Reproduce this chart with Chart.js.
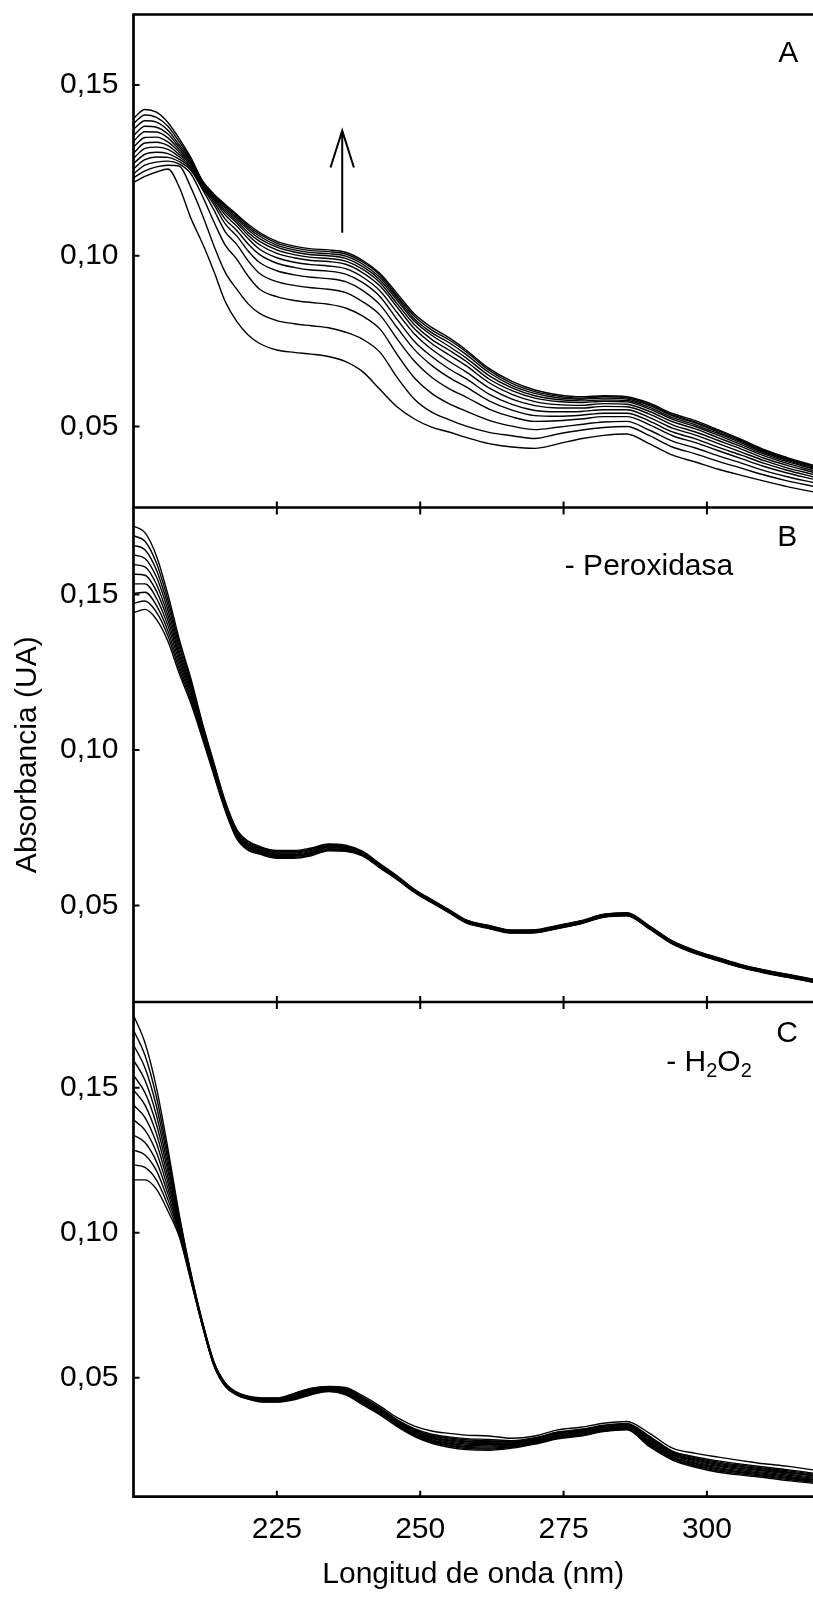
<!DOCTYPE html>
<html>
<head>
<meta charset="utf-8">
<script src="https://cdn.jsdelivr.net/npm/chart.js@4.4.1/dist/chart.umd.min.js"></script>
<style>
html,body{margin:0;padding:0;background:#fff;}
#wrap{position:relative;width:813px;height:1600px;overflow:hidden;}
canvas{position:absolute;left:0;top:0;}
</style>
</head>
<body>
<div id="wrap">
<canvas id="cA" width="813" height="1600"></canvas>
<canvas id="cB" width="813" height="1600"></canvas>
<canvas id="cC" width="813" height="1600"></canvas>
</div>
<script>
// ---------------- DATA ----------------
const wavelengths = [200,202,204,206,208,210,212,214,216,218,220,222,225,228,231,234,237,240,243,246,249,252,255,258,262,266,270,274,278,282,286,290,294,298,302,306,310,314,318.5];
const xTickValues = [225,250,275,300];
const yTickValues = [0.05,0.10,0.15];

// Panel A: successive spectra (lowest = first scan)
const absorbanceA = [
[.1215,.1232,.1245,.1254,.1200,.1110,.1037,.0955,.0866,.0808,.0768,.0743,.0724,.0717,.0712,.0705,.0690,.0660,.0608,.0557,.0522,.0498,.0484,.0468,.0450,.0440,.0436,.0449,.0464,.0474,.0478,.0449,.0416,.0396,.0375,.0357,.0340,.0324,.0309],
[.1228,.1248,.1260,.1265,.1262,.1200,.1120,.1030,.0951,.0902,.0859,.0831,.0810,.0801,.0795,.0789,.0776,.0755,.0717,.0643,.0580,.0542,.0520,.0501,.0483,.0473,.0465,.0478,.0489,.0497,.0500,.0473,.0440,.0420,.0398,.0378,.0358,.0341,.0325],
[.1240,.1265,.1274,.1277,.1268,.1240,.1175,.1100,.1031,.0990,.0940,.0902,.0880,.0869,.0863,.0858,.0847,.0823,.0785,.0710,.0642,.0597,.0567,.0545,.0518,.0501,.0491,.0498,.0506,.0513,.0515,.0489,.0457,.0437,.0414,.0393,.0371,.0353,.0336],
[.1255,.1281,.1289,.1288,.1275,.1250,.1195,.1135,.1070,.1033,.0985,.0948,.0924,.0913,.0906,.0902,.0892,.0865,.0826,.0756,.0691,.0644,.0611,.0586,.0551,.0528,.0515,.0517,.0522,.0529,.0529,.0505,.0473,.0453,.0429,.0406,.0383,.0364,.0346],
[.1270,.1297,.1303,.1299,.1282,.1256,.1200,.1150,.1093,.1058,.1014,.0980,.0956,.0944,.0937,.0933,.0924,.0898,.0856,.0789,.0725,.0679,.0644,.0616,.0575,.0548,.0532,.0530,.0533,.0539,.0539,.0516,.0484,.0464,.0439,.0416,.0392,.0372,.0353],
[.1285,.1314,.1318,.1311,.1289,.1261,.1203,.1158,.1107,.1074,.1034,.1003,.0978,.0966,.0958,.0955,.0946,.0921,.0880,.0813,.0749,.0705,.0669,.0640,.0595,.0565,.0547,.0543,.0544,.0549,.0549,.0526,.0495,.0475,.0450,.0425,.0400,.0379,.0360],
[.1300,.1330,.1332,.1322,.1296,.1266,.1206,.1164,.1119,.1087,.1050,.1019,.0994,.0981,.0974,.0970,.0962,.0937,.0897,.0833,.0771,.0726,.0691,.0660,.0613,.0580,.0561,.0554,.0554,.0559,.0558,.0536,.0505,.0484,.0459,.0434,.0407,.0386,.0366],
[.1318,.1346,.1347,.1333,.1303,.1270,.1209,.1168,.1127,.1096,.1060,.1032,.1007,.0994,.0986,.0983,.0975,.0950,.0911,.0849,.0786,.0743,.0710,.0678,.0628,.0594,.0573,.0564,.0562,.0567,.0565,.0544,.0514,.0493,.0467,.0441,.0414,.0392,.0371],
[.1335,.1363,.1362,.1345,.1310,.1274,.1212,.1172,.1133,.1102,.1068,.1042,.1017,.1003,.0995,.0992,.0984,.0960,.0921,.0859,.0798,.0755,.0724,.0691,.0639,.0605,.0583,.0573,.0570,.0574,.0572,.0551,.0521,.0500,.0474,.0447,.0419,.0397,.0376],
[.1352,.1379,.1376,.1356,.1317,.1278,.1214,.1175,.1139,.1108,.1076,.1050,.1025,.1011,.1003,.1000,.0992,.0968,.0929,.0869,.0808,.0767,.0735,.0701,.0649,.0613,.0590,.0579,.0575,.0578,.0576,.0556,.0526,.0505,.0479,.0452,.0423,.0401,.0379],
[.1370,.1395,.1391,.1367,.1324,.1281,.1216,.1177,.1143,.1113,.1082,.1057,.1031,.1017,.1009,.1006,.0999,.0975,.0936,.0876,.0815,.0775,.0746,.0711,.0658,.0620,.0597,.0584,.0580,.0583,.0580,.0561,.0531,.0510,.0483,.0456,.0426,.0404,.0382],
[.1387,.1412,.1405,.1379,.1333,.1284,.1218,.1179,.1147,.1118,.1087,.1063,.1037,.1023,.1015,.1012,.1005,.0981,.0943,.0882,.0823,.0783,.0754,.0719,.0665,.0626,.0602,.0589,.0583,.0587,.0584,.0564,.0534,.0513,.0487,.0459,.0429,.0406,.0385],
[.1402,.1428,.1420,.1390,.1342,.1287,.1220,.1181,.1150,.1121,.1092,.1068,.1042,.1028,.1020,.1017,.1010,.0986,.0948,.0889,.0829,.0790,.0760,.0724,.0670,.0632,.0607,.0593,.0587,.0590,.0587,.0568,.0538,.0517,.0490,.0462,.0432,.0409,.0387]
];

// Panel B: - Peroxidasa
const absorbanceB = [
[.1441,.1452,.1420,.1350,.1245,.1150,.1038,.0920,.0805,.0715,.0677,.0665,.0652,.0652,.0660,.0676,.0674,.0659,.0620,.0583,.0542,.0509,.0477,.0444,.0426,.0411,.0412,.0426,.0441,.0462,.0467,.0424,.0376,.0345,.0322,.0300,.0283,.0269,.0253],
[.1472,.1479,.1443,.1367,.1257,.1159,.1044,.0924,.0808,.0718,.0680,.0668,.0655,.0655,.0663,.0678,.0676,.0661,.0622,.0584,.0543,.0510,.0478,.0445,.0427,.0412,.0413,.0427,.0442,.0463,.0468,.0425,.0377,.0346,.0323,.0301,.0284,.0270,.0254],
[.1503,.1507,.1465,.1383,.1269,.1168,.1049,.0929,.0812,.0722,.0684,.0671,.0658,.0658,.0666,.0681,.0678,.0662,.0623,.0586,.0544,.0511,.0479,.0446,.0428,.0413,.0414,.0428,.0443,.0464,.0469,.0426,.0378,.0347,.0324,.0302,.0285,.0271,.0255],
[.1534,.1534,.1488,.1400,.1282,.1177,.1055,.0933,.0815,.0725,.0687,.0673,.0660,.0660,.0668,.0683,.0680,.0664,.0625,.0587,.0545,.0512,.0480,.0447,.0429,.0414,.0415,.0429,.0444,.0465,.0470,.0427,.0379,.0348,.0325,.0303,.0286,.0272,.0256],
[.1565,.1562,.1511,.1417,.1294,.1186,.1060,.0938,.0818,.0728,.0690,.0676,.0663,.0663,.0671,.0686,.0682,.0666,.0626,.0588,.0546,.0513,.0481,.0448,.0430,.0415,.0416,.0430,.0445,.0466,.0471,.0428,.0380,.0349,.0326,.0304,.0287,.0273,.0257],
[.1596,.1589,.1533,.1433,.1306,.1194,.1066,.0942,.0822,.0732,.0694,.0679,.0666,.0666,.0674,.0688,.0685,.0667,.0628,.0590,.0548,.0515,.0483,.0450,.0432,.0417,.0418,.0432,.0447,.0468,.0473,.0430,.0382,.0351,.0328,.0306,.0289,.0275,.0259],
[.1627,.1616,.1556,.1450,.1318,.1203,.1071,.0947,.0825,.0735,.0697,.0682,.0669,.0669,.0677,.0691,.0687,.0669,.0629,.0591,.0549,.0516,.0484,.0451,.0433,.0418,.0419,.0433,.0448,.0469,.0474,.0431,.0383,.0352,.0329,.0307,.0290,.0276,.0260],
[.1658,.1644,.1579,.1467,.1331,.1212,.1077,.0951,.0828,.0738,.0700,.0685,.0672,.0672,.0680,.0693,.0689,.0671,.0631,.0592,.0550,.0517,.0485,.0452,.0434,.0419,.0420,.0434,.0449,.0470,.0475,.0432,.0384,.0353,.0330,.0308,.0291,.0277,.0261],
[.1689,.1671,.1601,.1483,.1343,.1221,.1082,.0956,.0832,.0742,.0704,.0687,.0674,.0674,.0682,.0696,.0691,.0672,.0632,.0594,.0551,.0518,.0486,.0453,.0435,.0420,.0421,.0435,.0450,.0471,.0476,.0433,.0385,.0354,.0331,.0309,.0292,.0278,.0262],
[.1720,.1699,.1624,.1500,.1355,.1230,.1088,.0960,.0835,.0745,.0707,.0690,.0677,.0677,.0685,.0698,.0694,.0674,.0634,.0595,.0552,.0519,.0487,.0454,.0436,.0421,.0422,.0436,.0451,.0472,.0477,.0434,.0386,.0355,.0332,.0310,.0293,.0279,.0263]
];

// Panel C: - H2O2
const absorbanceC = [
[.1182,.1182,.1150,.1075,.0985,.0835,.0680,.0543,.0470,.0440,.0426,.0417,.0416,.0424,.0441,.0452,.0441,.0406,.0372,.0331,.0297,.0274,.0260,.0252,.0250,.0257,.0271,.0289,.0299,.0314,.0320,.0262,.0216,.0191,.0174,.0164,.0156,.0145,.0136],
[.1234,.1225,.1182,.1095,.0992,.0837,.0681,.0544,.0471,.0441,.0427,.0418,.0417,.0426,.0443,.0454,.0443,.0409,.0374,.0333,.0300,.0277,.0264,.0256,.0254,.0260,.0273,.0291,.0301,.0316,.0322,.0266,.0219,.0195,.0178,.0168,.0160,.0149,.0140],
[.1285,.1268,.1214,.1114,.0999,.0840,.0682,.0545,.0472,.0442,.0428,.0420,.0419,.0428,.0445,.0455,.0446,.0411,.0377,.0336,.0302,.0280,.0267,.0260,.0257,.0262,.0275,.0294,.0304,.0318,.0324,.0269,.0222,.0198,.0182,.0172,.0163,.0153,.0143],
[.1337,.1311,.1245,.1134,.1005,.0842,.0684,.0547,.0473,.0443,.0429,.0421,.0420,.0430,.0447,.0457,.0448,.0414,.0379,.0338,.0305,.0283,.0271,.0263,.0261,.0265,.0278,.0296,.0306,.0321,.0327,.0273,.0225,.0202,.0186,.0175,.0167,.0156,.0147],
[.1389,.1354,.1277,.1153,.1012,.0845,.0685,.0548,.0474,.0444,.0430,.0422,.0421,.0432,.0449,.0459,.0450,.0416,.0382,.0341,.0308,.0286,.0274,.0267,.0265,.0267,.0280,.0299,.0308,.0323,.0329,.0276,.0228,.0205,.0190,.0179,.0170,.0160,.0150],
[.1440,.1397,.1309,.1173,.1019,.0847,.0686,.0549,.0475,.0445,.0431,.0423,.0422,.0434,.0451,.0460,.0452,.0419,.0384,.0343,.0311,.0290,.0278,.0271,.0269,.0270,.0282,.0301,.0311,.0325,.0331,.0280,.0232,.0209,.0194,.0183,.0174,.0164,.0154],
[.1492,.1440,.1341,.1192,.1026,.0850,.0688,.0550,.0477,.0445,.0431,.0425,.0424,.0436,.0454,.0462,.0455,.0422,.0386,.0345,.0313,.0293,.0282,.0275,.0272,.0273,.0284,.0303,.0313,.0327,.0333,.0284,.0235,.0213,.0197,.0187,.0178,.0168,.0157],
[.1543,.1483,.1373,.1212,.1033,.0852,.0689,.0551,.0478,.0446,.0432,.0426,.0425,.0438,.0456,.0463,.0457,.0424,.0389,.0348,.0316,.0296,.0285,.0279,.0276,.0275,.0286,.0306,.0315,.0329,.0335,.0287,.0238,.0216,.0201,.0191,.0181,.0172,.0161],
[.1595,.1526,.1405,.1231,.1040,.0855,.0690,.0552,.0479,.0447,.0433,.0427,.0426,.0440,.0458,.0465,.0459,.0427,.0391,.0350,.0319,.0299,.0289,.0282,.0280,.0278,.0289,.0308,.0317,.0332,.0338,.0291,.0241,.0220,.0205,.0194,.0185,.0175,.0164],
[.1647,.1569,.1436,.1251,.1046,.0857,.0692,.0554,.0480,.0448,.0434,.0428,.0427,.0442,.0460,.0467,.0461,.0429,.0394,.0353,.0321,.0302,.0292,.0286,.0283,.0280,.0291,.0311,.0320,.0334,.0340,.0294,.0244,.0223,.0209,.0198,.0188,.0179,.0168],
[.1698,.1612,.1468,.1270,.1053,.0860,.0693,.0555,.0481,.0449,.0435,.0430,.0429,.0444,.0462,.0468,.0464,.0432,.0396,.0355,.0324,.0305,.0296,.0290,.0287,.0283,.0293,.0313,.0322,.0336,.0342,.0298,.0247,.0227,.0213,.0202,.0192,.0183,.0171],
[.1750,.1655,.1500,.1290,.1060,.0862,.0695,.0556,.0482,.0450,.0436,.0431,.0430,.0446,.0464,.0470,.0466,.0437,.0402,.0362,.0333,.0316,.0308,.0302,.0299,.0291,.0299,.0320,.0329,.0343,.0349,.0308,.0257,.0239,.0226,.0214,.0203,.0195,.0182]
];

// ---------------- LAYOUT / STYLE ----------------
const FONT = '"Liberation Sans", Arial, Helvetica, sans-serif';
const X_MIN = 200, X_MAX = 318.5;
const LEFT = 133.5;
Chart.defaults.font.family = FONT;
Chart.defaults.color = '#000';

const panels = [
  { id:'cA', series:absorbanceA, top:14.5, bottom:507.5, yMin:0.02629, yMax:0.17061, drawTop:true, topTicks:false, showX:false, yTitle:false,
    labels:[{text:'A', x:314.2, y:0.1590}],
    arrow:{x:236.4, y0:0.1067, y1:0.1366, yw:0.1258, dx:2.04} },
  { id:'cB', series:absorbanceB, top:507.5, bottom:1002, yMin:0.01897, yMax:0.17797, drawTop:false, topTicks:true, showX:false, yTitle:true,
    labels:[{text:'B', x:314.0, y:0.1682},{text:'- Peroxidasa', x:289.9, y:0.1588}] },
  { id:'cC', series:absorbanceC, top:1002, bottom:1496.7, yMin:0.00896, yMax:0.17955, drawTop:false, topTicks:true, showX:true, yTitle:false,
    labels:[{text:'C', x:314.0, y:0.1685}],
    h2o2:{x:292.9, y:0.1585} }
];

const fmt = v => v.toFixed(2).replace('.', ',');

function framePlugin(p){
  return {
    id:'frame_'+p.id,
    afterDatasetsDraw(chart){
      const ctx = chart.ctx, a = chart.chartArea, xs = chart.scales.x, ys = chart.scales.y;
      ctx.save();
      ctx.strokeStyle = '#000';
      ctx.lineWidth = 2.7;
      ctx.beginPath();
      ctx.moveTo(a.left, a.top); ctx.lineTo(a.left, a.bottom);
      ctx.moveTo(a.left - 1.35, a.bottom); ctx.lineTo(a.right, a.bottom);
      if (p.drawTop){ ctx.moveTo(a.left - 1.35, a.top); ctx.lineTo(a.right, a.top); }
      ctx.stroke();
      ctx.lineWidth = 2;
      ctx.beginPath();
      yTickValues.forEach(v => { const py = ys.getPixelForValue(v); ctx.moveTo(a.left, py); ctx.lineTo(a.left + 6, py); });
      xTickValues.forEach(v => {
        const px = xs.getPixelForValue(v);
        ctx.moveTo(px, a.bottom); ctx.lineTo(px, a.bottom - 6);
        if (p.topTicks){ ctx.moveTo(px, a.top); ctx.lineTo(px, a.top + 7); }
      });
      ctx.stroke();
      // labels
      ctx.fillStyle = '#000';
      ctx.font = '30px ' + FONT;
      ctx.textAlign = 'center';
      ctx.textBaseline = 'middle';
      (p.labels || []).forEach(l => ctx.fillText(l.text, xs.getPixelForValue(l.x), ys.getPixelForValue(l.y)));
      if (p.h2o2){
        let px = xs.getPixelForValue(p.h2o2.x), py = ys.getPixelForValue(p.h2o2.y);
        ctx.textAlign = 'left';
        const parts = [['- H',30,0],['2',20,8],['O',30,0],['2',20,8]];
        parts.forEach(([t,s,dy]) => {
          ctx.font = s + 'px ' + FONT;
          ctx.fillText(t, px, py + dy);
          px += ctx.measureText(t).width;
        });
      }
      if (p.arrow){
        const ar = p.arrow;
        const ax = xs.getPixelForValue(ar.x), ay0 = ys.getPixelForValue(ar.y0), ay1 = ys.getPixelForValue(ar.y1);
        const ayw = ys.getPixelForValue(ar.yw);
        const axl = xs.getPixelForValue(ar.x - ar.dx), axr = xs.getPixelForValue(ar.x + ar.dx);
        ctx.lineWidth = 2;
        ctx.beginPath();
        ctx.moveTo(ax, ay0); ctx.lineTo(ax, ay1);
        ctx.moveTo(axl, ayw); ctx.lineTo(ax, ay1); ctx.lineTo(axr, ayw);
        ctx.stroke();
      }
      ctx.restore();
    }
  };
}

panels.forEach(p => {
  const datasets = p.series.map(s => ({
    data: wavelengths.map((w, i) => ({x: w, y: s[i]})),
    borderColor: '#000', borderWidth: 1.4, pointRadius: 0, fill: false,
    cubicInterpolationMode: 'monotone'
  }));
  const yScale = {
    type: 'linear', min: p.yMin, max: p.yMax,
    afterFit(s){ s.width = LEFT; s.paddingTop = 0; s.paddingBottom = 0; },
    afterBuildTicks(s){ s.ticks = yTickValues.map(v => ({value: v})); },
    grid: {display: false, drawTicks: false},
    border: {display: false},
    ticks: {font: {family: FONT, size: 30}, color: '#000', padding: 15, callback: v => fmt(v)},
    title: p.yTitle ? {display: true, text: 'Absorbancia (UA)', font: {family: FONT, size: 30}, color: '#000', padding: {top: 10, bottom: 0}} : {display: false}
  };
  const xScale = p.showX ? {
    type: 'linear', min: X_MIN, max: X_MAX, position: 'bottom',
    afterFit(s){ s.height = 1600 - p.bottom; s.paddingLeft = 0; s.paddingRight = 0; },
    afterBuildTicks(s){ s.ticks = xTickValues.map(v => ({value: v})); },
    grid: {display: false, drawTicks: false},
    border: {display: false},
    ticks: {font: {family: FONT, size: 30}, color: '#000', padding: 15, maxRotation: 0, autoSkip: false},
    title: {display: true, text: 'Longitud de onda (nm)', font: {family: FONT, size: 30}, color: '#000', padding: {top: 0, bottom: 7}}
  } : { type: 'linear', min: X_MIN, max: X_MAX, display: false };

  new Chart(document.getElementById(p.id), {
    type: 'line',
    data: {datasets},
    options: {
      responsive: false, animation: false, devicePixelRatio: 1,
      layout: {padding: {top: p.top, bottom: p.showX ? 0 : 1600 - p.bottom, left: 0, right: 0}},
      plugins: {legend: {display: false}, tooltip: {enabled: false}},
      events: [],
      scales: {x: xScale, y: yScale}
    },
    plugins: [framePlugin(p)]
  });
});
</script>
</body>
</html>
